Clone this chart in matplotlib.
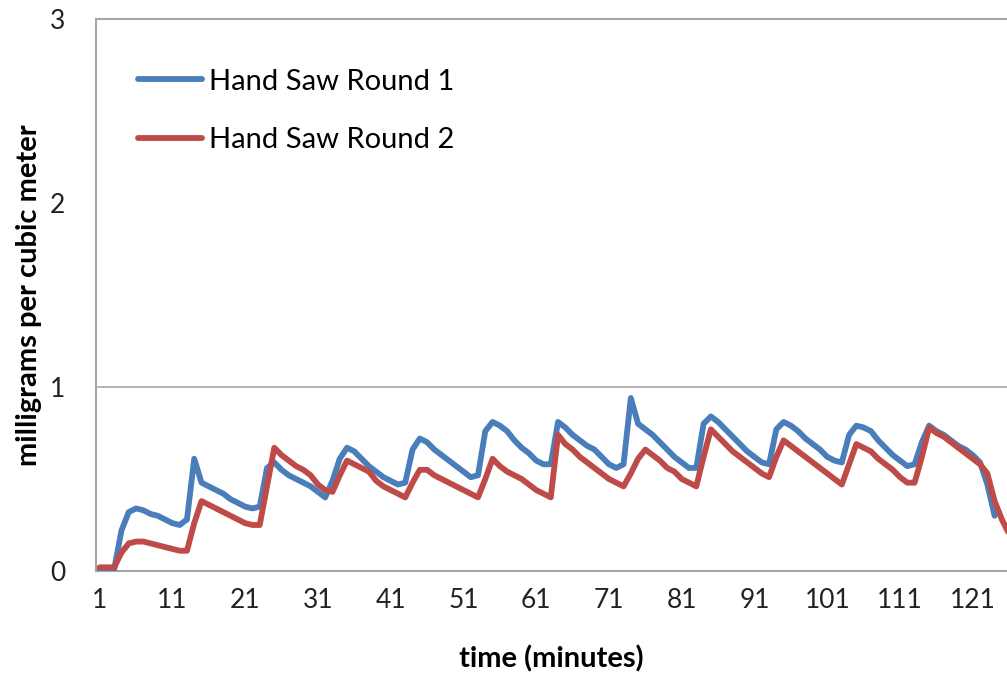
import matplotlib
matplotlib.use("Agg")
import matplotlib.pyplot as plt

# === Données (mg/m3, une valeur par minute) ===
round1 = [0.01, 0.01, 0.01, 0.22, 0.32, 0.34, 0.33, 0.31, 0.30, 0.28,
          0.26, 0.25, 0.28, 0.61, 0.48, 0.46, 0.44, 0.42, 0.39, 0.37,
          0.35, 0.34, 0.35, 0.56, 0.59, 0.55, 0.52, 0.50, 0.48, 0.46,
          0.43, 0.40, 0.49, 0.61, 0.67, 0.65, 0.61, 0.57, 0.54, 0.51,
          0.49, 0.47, 0.48, 0.66, 0.72, 0.70, 0.66, 0.63, 0.60, 0.57,
          0.54, 0.51, 0.52, 0.76, 0.81, 0.79, 0.76, 0.71, 0.67, 0.64,
          0.60, 0.58, 0.58, 0.81, 0.78, 0.74, 0.71, 0.68, 0.66, 0.62,
          0.58, 0.56, 0.58, 0.94, 0.80, 0.77, 0.74, 0.70, 0.66, 0.62,
          0.59, 0.56, 0.56, 0.80, 0.84, 0.81, 0.77, 0.73, 0.69, 0.65,
          0.62, 0.59, 0.58, 0.77, 0.81, 0.79, 0.76, 0.72, 0.69, 0.66,
          0.62, 0.60, 0.59, 0.74, 0.79, 0.78, 0.76, 0.71, 0.67, 0.63,
          0.60, 0.57, 0.58, 0.70, 0.79, 0.76, 0.74, 0.71, 0.68, 0.66,
          0.63, 0.59, 0.47, 0.30]

round2 = [0.02, 0.02, 0.02, 0.10, 0.15, 0.16, 0.16, 0.15, 0.14, 0.13,
          0.12, 0.11, 0.11, 0.26, 0.38, 0.36, 0.34, 0.32, 0.30, 0.28,
          0.26, 0.25, 0.25, 0.46, 0.67, 0.63, 0.60, 0.57, 0.55, 0.52,
          0.47, 0.44, 0.43, 0.52, 0.60, 0.58, 0.56, 0.54, 0.49, 0.46,
          0.44, 0.42, 0.40, 0.48, 0.55, 0.55, 0.52, 0.50, 0.48, 0.46,
          0.44, 0.42, 0.40, 0.50, 0.61, 0.57, 0.54, 0.52, 0.50, 0.47,
          0.44, 0.42, 0.40, 0.74, 0.69, 0.66, 0.62, 0.59, 0.56, 0.53,
          0.50, 0.48, 0.46, 0.53, 0.61, 0.66, 0.63, 0.60, 0.56, 0.54,
          0.50, 0.48, 0.46, 0.62, 0.77, 0.73, 0.69, 0.65, 0.62, 0.59,
          0.56, 0.53, 0.51, 0.62, 0.71, 0.68, 0.65, 0.62, 0.59, 0.56,
          0.53, 0.50, 0.47, 0.58, 0.69, 0.67, 0.65, 0.61, 0.58, 0.55,
          0.51, 0.48, 0.48, 0.62, 0.78, 0.75, 0.73, 0.70, 0.67, 0.64,
          0.61, 0.58, 0.53, 0.38, 0.28, 0.20]

minutes1 = list(range(1, len(round1) + 1))
minutes2 = list(range(1, len(round2) + 1))
xticks = list(range(1, 122, 10))
yticks = [0, 1, 2, 3]

BLUE = "#4A7EBB"
RED = "#BE4B48"
GREY = "#A6A6A6"

plt.rcParams['font.family'] = ['Lato', 'DejaVu Sans']

fig = plt.figure(figsize=(10.07, 6.79), dpi=100)
ax = fig.add_axes([96 / 1007, 108 / 679, 1 - 96 / 1007, 552 / 679])

ax.plot(minutes1, round1, color=BLUE, lw=4.2, label="Hand Saw Round 1", zorder=3,
        solid_joinstyle='round', solid_capstyle='round')
ax.plot(minutes2, round2, color=RED, lw=4.2, label="Hand Saw Round 2", zorder=4,
        solid_joinstyle='round', solid_capstyle='round')

ax.set_xlim(0.5, 125.7)
ax.set_ylim(0, 3)

# === Grille et bordures façon Excel ===
ax.axhline(1, color=GREY, lw=1.2, zorder=1)
ax.axhline(3, color=GREY, lw=1.5, zorder=1, clip_on=False)
for s in ['top', 'right']:
    ax.spines[s].set_visible(False)
for s in ['left', 'bottom']:
    ax.spines[s].set_color(GREY)
    ax.spines[s].set_linewidth(1.5)

ax.set_xticks(xticks)
ax.set_xticklabels([str(t) for t in xticks])
ax.set_yticks(yticks)
ax.tick_params(axis='x', length=0, pad=12, labelsize=19, colors='#222222')
ax.tick_params(axis='y', length=0, pad=22, labelsize=19, colors='#222222')

ax.set_xlabel("time (minutes)", fontsize=21, fontweight='bold')
ax.set_ylabel("milligrams per cubic meter", fontsize=21, fontweight='bold')
ax.xaxis.set_label_coords(0.5, -0.135)
ax.yaxis.set_label_coords(-0.059, 0.5)

ax.legend(loc='upper left', bbox_to_anchor=(0.046, 0.91), frameon=False, fontsize=21,
          handlelength=2.2, handletextpad=0.25, labelspacing=1.1, borderaxespad=0,
          borderpad=0)

fig.savefig("out.png", dpi=100)
